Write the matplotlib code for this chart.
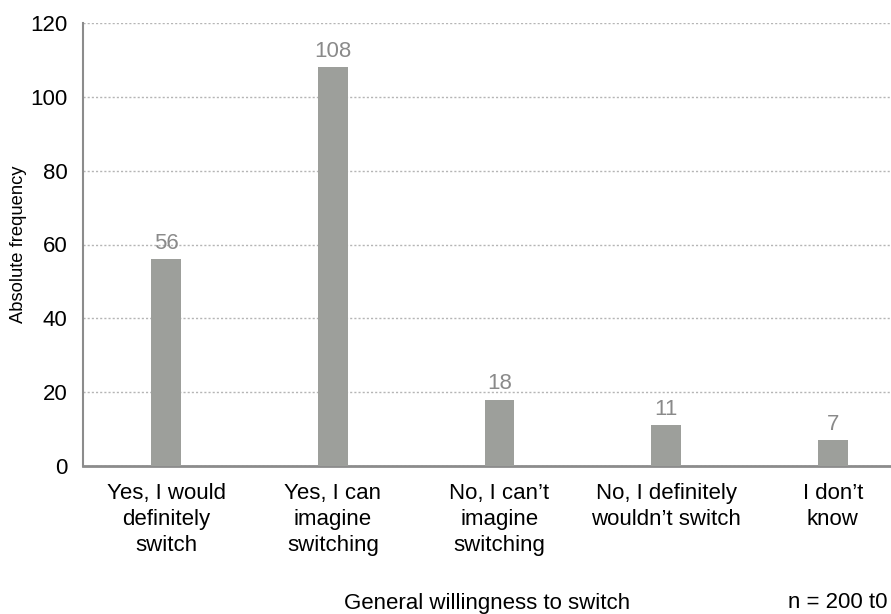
import matplotlib.pyplot as plt

plt.rcParams['font.family'] = ['Liberation Sans', 'DejaVu Sans']

categories = ["Yes, I would\ndefinitely\nswitch",
              "Yes, I can\nimagine\nswitching",
              "No, I can\u2019t\nimagine\nswitching",
              "No, I definitely\nwouldn\u2019t switch",
              "I don\u2019t\nknow"]
counts = [56, 108, 18, 11, 7]
yticks = [0, 20, 40, 60, 80, 100, 120]

fig = plt.figure(figsize=(8.91, 6.14), dpi=100)
ax = fig.add_axes([83 / 891, 1 - 466 / 614, 1 - 83 / 891, (466 - 23) / 614])

x = range(len(categories))
ax.bar(x, counts, width=0.18, color='#9d9f9b', zorder=3)
for xi, c in zip(x, counts):
    ax.text(xi, c + 1.5, str(c), ha='center', va='bottom', fontsize=16, color='#8a8a8a')

ax.set_xlim(-0.5, 4.35)
ax.set_ylim(0, 120)
ax.set_yticks(yticks)
ax.set_xticks(list(x))
ax.set_xticklabels(categories, fontsize=16, linespacing=1.32)
ax.tick_params(axis='y', labelsize=16, length=0, pad=11)
ax.tick_params(axis='x', length=0, pad=12)
ax.yaxis.grid(True, linestyle=(0, (1.5, 1.5)), color='#b5b5b5', linewidth=1)
ax.set_axisbelow(True)

for s in ['top', 'right']:
    ax.spines[s].set_visible(False)
ax.spines['left'].set_color('#8c8c8c')
ax.spines['left'].set_linewidth(1.5)
ax.spines['bottom'].set_color('#8c8c8c')
ax.spines['bottom'].set_linewidth(2)

ax.set_ylabel('Absolute frequency', fontsize=13.2)
ax.yaxis.set_label_coords(-56 / 808, 0.5)
fig.text(487 / 891, 1 - 603 / 614, 'General willingness to switch', ha='center', va='center', fontsize=16)
fig.text(887 / 891, 1 - 603 / 614, 'n = 200 t0', ha='right', va='center', fontsize=16)

fig.savefig('out.png', dpi=100)
